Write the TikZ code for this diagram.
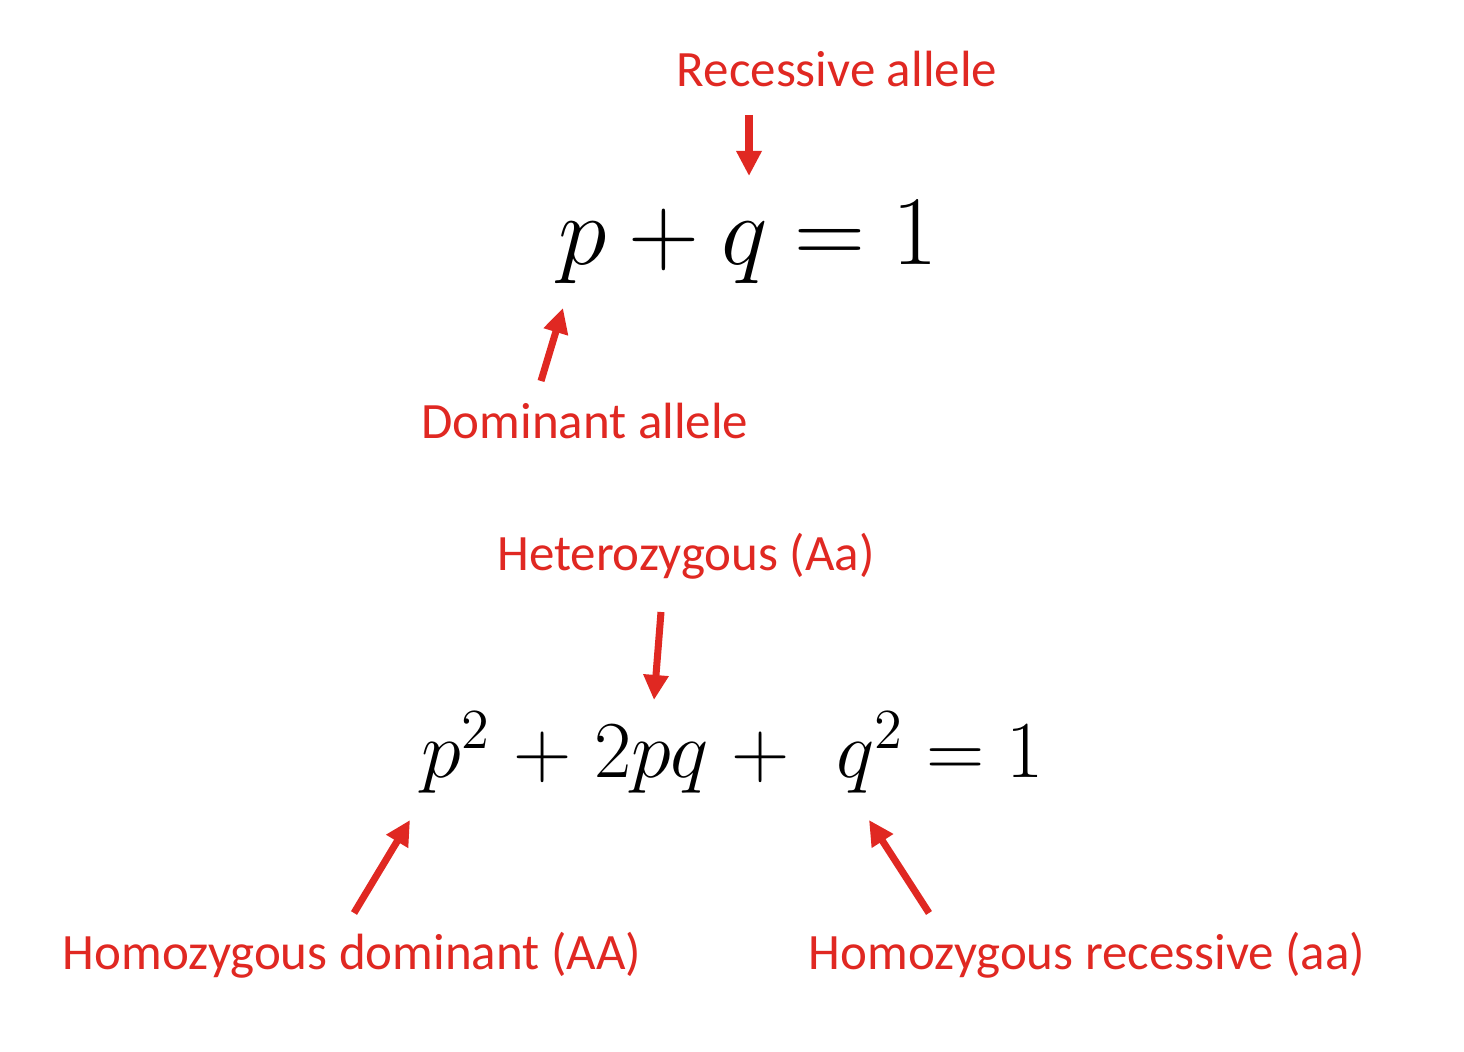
\RequirePackage{fix-cm}
\documentclass[tikz,border=0pt]{standalone}
\usepackage{fontspec}
\newfontfamily\labelfont{Carlito}
\usetikzlibrary{arrows.meta,positioning}
\definecolor{allelered}{RGB}{224,40,34}

\begin{document}
\begin{tikzpicture}[
  lab/.style={anchor=base, inner sep=0pt, text=allelered, font=\labelfont\fontsize{14.5}{17}\selectfont},
  bigeq/.style={anchor=base, inner sep=0pt, font=\fontsize{28}{34}\selectfont},
  smalleq/.style={anchor=base, inner sep=0pt, font=\fontsize{23}{27}\selectfont},
  pointer/.style={draw=allelered, line width=2pt, -{Triangle[width=0.24cm,length=0.25cm]}}]
\fill[white] (0,0) rectangle (14.64,-10.52);
\useasboundingbox (0,0) rectangle (14.64,-10.52);
% allele frequencies
\node[bigeq] (freq) at (7.48,-2.65) {$p + q = 1$};
\node[lab] (rec) at (8.37,-0.87) {Recessive allele};
\node[lab] (dom) at (5.85,-4.39) {Dominant allele};
\coordinate (rec tail) at (7.49,-1.15);
\coordinate (rec tip) at (7.49,-1.76);
\coordinate (dom tail) at (5.41,-3.81);
\coordinate (dom tip) at (5.63,-3.08);
\draw[pointer] (rec tail) -- (rec tip);
\draw[pointer] (dom tail) -- (dom tip);
% genotype frequencies
\node[smalleq] (geno) at (7.33,-7.78) {$\medmuskip=5mu p^2 + 2pq + \ q^2 = 1$};
\node[lab] (het) at (6.86,-5.71) {Heterozygous (Aa)};
\node[lab] (homdom) at (3.52,-9.70) {Homozygous dominant (AA)};
\node[lab] (homrec) at (10.87,-9.70) {Homozygous recessive (aa)};
\coordinate (het tail) at (6.61,-6.12);
\coordinate (het tip) at (6.54,-7.00);
\coordinate (homdom tail) at (3.54,-9.13);
\coordinate (homdom tip) at (4.10,-8.20);
\coordinate (homrec tail) at (9.29,-9.13);
\coordinate (homrec tip) at (8.69,-8.20);
\draw[pointer] (het tail) -- (het tip);
\draw[pointer] (homdom tail) -- (homdom tip);
\draw[pointer] (homrec tail) -- (homrec tip);
%\draw[help lines] (0,0) grid (14.64,-10.52);
\end{tikzpicture}
\end{document}
